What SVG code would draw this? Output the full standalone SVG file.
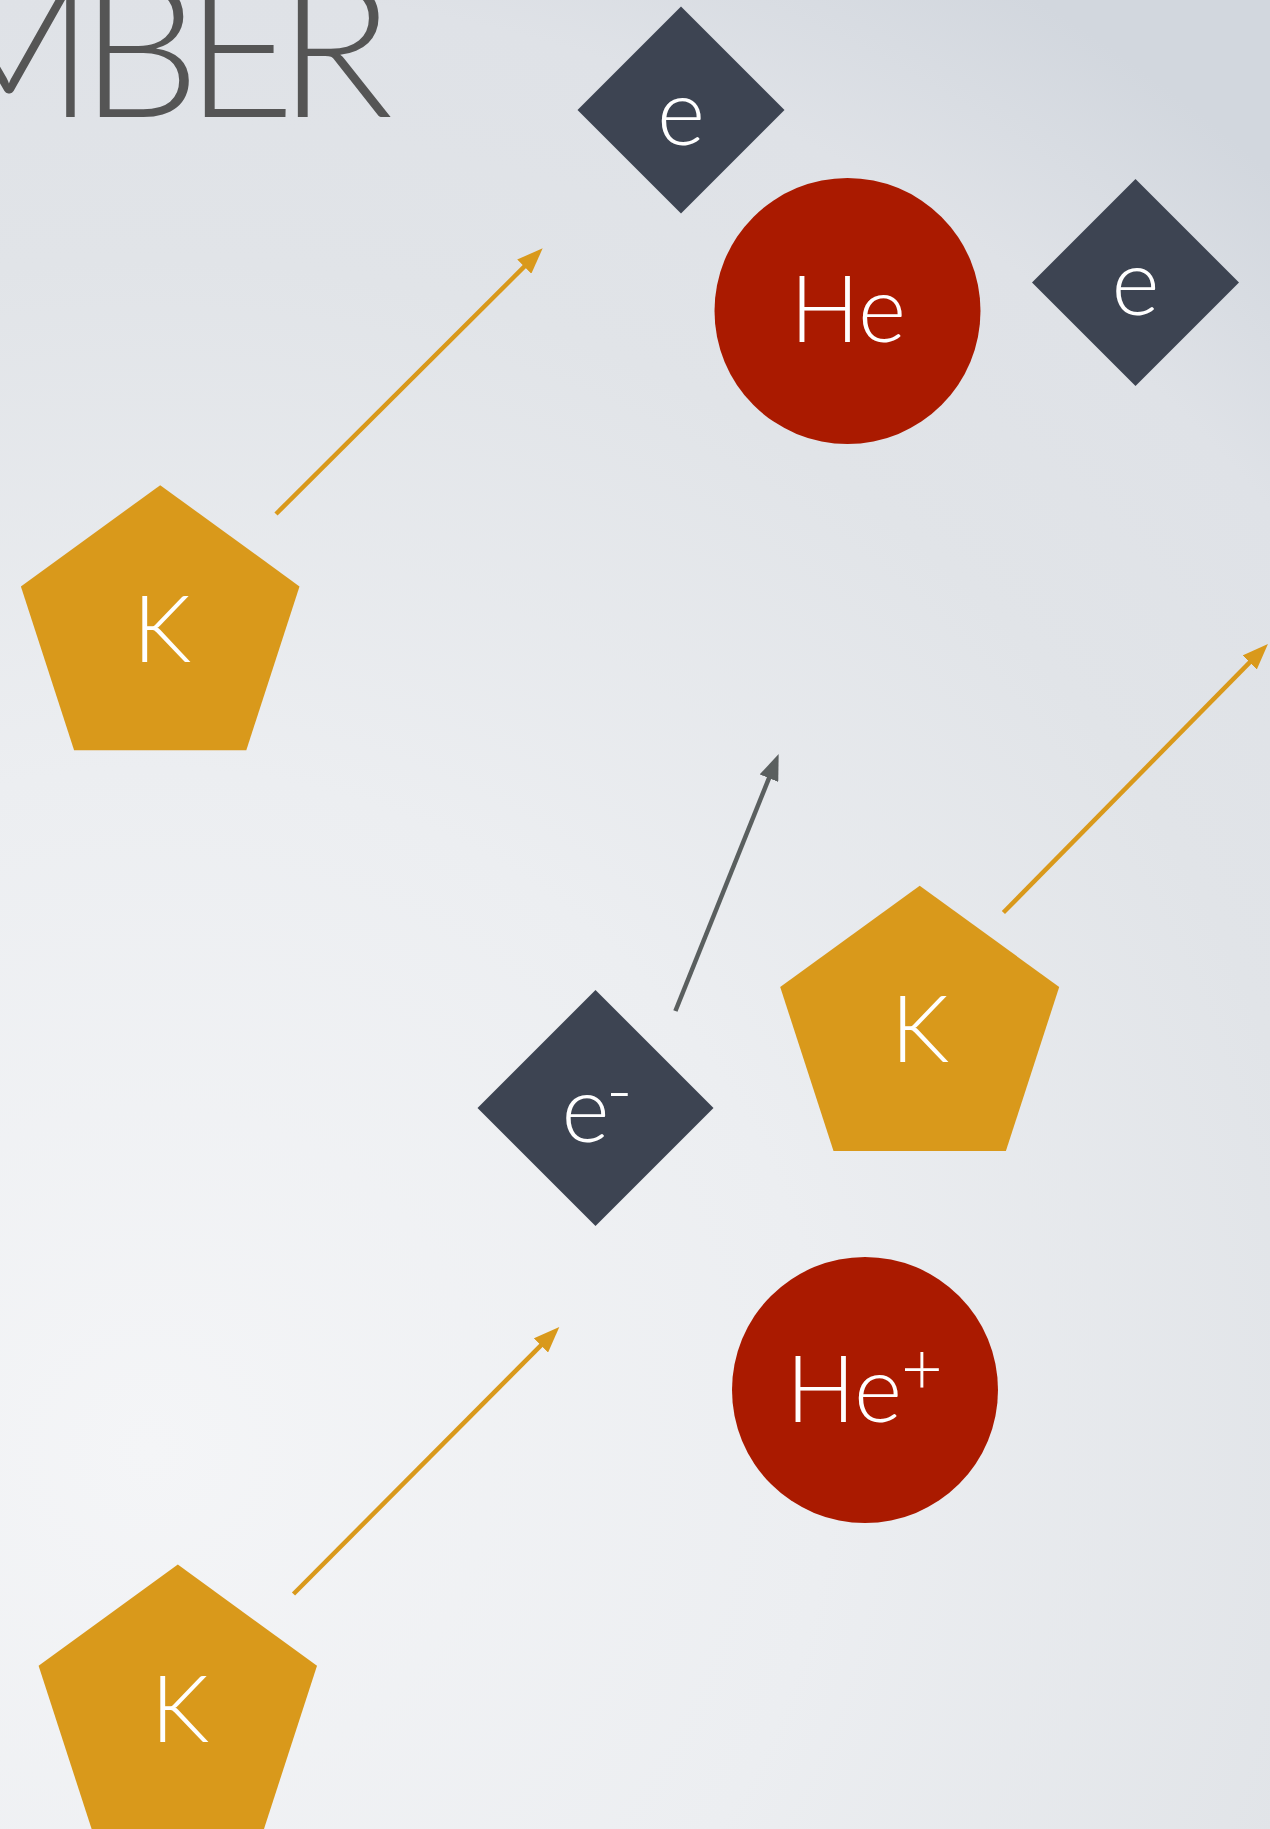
<svg xmlns="http://www.w3.org/2000/svg" width="1270" height="1829" viewBox="0 0 1270 1829">
  <defs>
    <radialGradient id="bg" gradientUnits="userSpaceOnUse" cx="150" cy="1450" r="1700">
      <stop offset="0" stop-color="#f4f5f7"/>
      <stop offset="0.4" stop-color="#eceef1"/>
      <stop offset="0.7" stop-color="#e1e4e8"/>
      <stop offset="0.86" stop-color="#dfe2e7"/>
      <stop offset="1" stop-color="#d2d7de"/>
    </radialGradient>
    <marker id="ahGold" viewBox="0 0 26 20" refX="6" refY="10" markerWidth="26" markerHeight="20" markerUnits="userSpaceOnUse" orient="auto">
      <path d="M0,0 L26,10 L0,20 z" fill="#d9991b"/>
    </marker>
    <marker id="ahGray" viewBox="0 0 26 20" refX="6" refY="10" markerWidth="26" markerHeight="20" markerUnits="userSpaceOnUse" orient="auto">
      <path d="M0,0 L26,10 L0,20 z" fill="#5a5f5f"/>
    </marker>
    <style>
      .lbl { font-family: Lato, "Open Sans", "Liberation Sans", sans-serif; font-weight: 300; fill: #ffffff; font-size: 92px; }
      .title { font-family: Lato, "Open Sans", "Liberation Sans", sans-serif; font-weight: 300; fill: #555555; font-size: 190px; }
      .electron { fill: #3d4452; }
      .potassium { fill: #d9991b; }
      .helium { fill: #aa1a00; }
      .gold { stroke: #d9991b; stroke-width: 4.5; fill: none; marker-end: url(#ahGold); }
      .gray { stroke: #5a5f5f; stroke-width: 4.5; fill: none; marker-end: url(#ahGray); }
    </style>
  </defs>
  <rect x="0" y="0" width="1270" height="1829" fill="url(#bg)"/>

  <text class="title" x="-78 80 185 278" y="117 117 117 117">MBER</text>

  <g id="connectors">
    <line class="gold" x1="276" y1="514" x2="528.5" y2="262.4"/>
    <line class="gray" x1="675.4" y1="1011" x2="771.2" y2="772.6"/>
    <line class="gold" x1="1003.4" y1="912.5" x2="1253.9" y2="658.2"/>
    <line class="gold" x1="293.5" y1="1594" x2="545.2" y2="1341.2"/>
  </g>

  <g id="electron-top">
    <polygon class="electron" points="681,6.5 784.5,110 681,213.5 577.5,110"/>
    <text class="lbl" x="681" y="145" text-anchor="middle">e</text>
  </g>

  <g id="helium-top">
    <circle class="helium" cx="847.5" cy="311" r="133"/>
    <text class="lbl" x="848" y="342" text-anchor="middle">He</text>
  </g>

  <g id="electron-right">
    <polygon class="electron" points="1135.5,179 1239,282.5 1135.5,386 1032,282.5"/>
    <text class="lbl" x="1135.5" y="315" text-anchor="middle">e</text>
  </g>

  <g id="potassium-1">
    <polygon class="potassium" points="160.2,485.2 299.5,586.4 246.3,750.2 74.1,750.2 20.9,586.4"/>
    <text class="lbl" x="162" y="662" text-anchor="middle">K</text>
  </g>

  <g id="potassium-2">
    <polygon class="potassium" points="919.7,885.7 1059.2,987 1005.9,1151 833.5,1151 780.2,987"/>
    <text class="lbl" x="920" y="1062" text-anchor="middle">K</text>
  </g>

  <g id="electron-ion">
    <polygon class="electron" points="595.5,990 713.5,1108 595.5,1226 477.5,1108"/>
    <text class="lbl" x="561.5" y="1142">e<tspan x="606" y="1116" font-size="72">-</tspan></text>
  </g>

  <g id="helium-ion">
    <circle class="helium" cx="865" cy="1390" r="133"/>
    <text class="lbl" x="786" y="1422">He<tspan x="901" y="1394" font-size="72">+</tspan></text>
  </g>

  <g id="potassium-3">
    <polygon class="potassium" points="177.8,1564.6 317,1665.8 263.8,1829.5 91.8,1829.5 38.6,1665.8"/>
    <text class="lbl" x="180" y="1741.5" text-anchor="middle">K</text>
  </g>
</svg>
